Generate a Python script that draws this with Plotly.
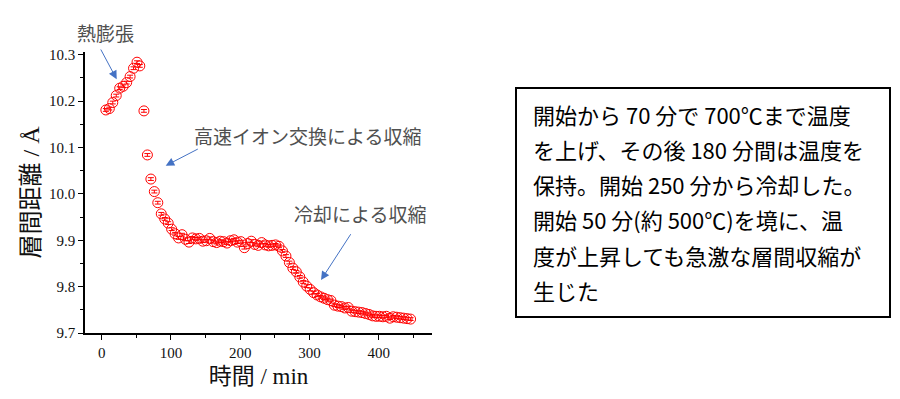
import plotly.graph_objects as go

# ---- data ----
time_min = [6, 11, 16, 21, 26, 31, 36, 41, 46, 51, 55, 61, 66, 71, 76, 81, 86, 91, 96,
            101, 106, 111, 116, 121, 126, 131, 136, 141, 146, 151, 156, 161, 166, 171,
            176, 181, 186, 191, 196, 201, 206, 211, 216, 221, 226, 231, 236, 241, 246,
            251, 256, 261, 266, 271, 276, 281, 286, 291, 296, 301, 306, 311, 316, 321,
            326, 331, 336, 341, 346, 351, 356, 361, 366, 371, 376, 381, 386, 391, 396,
            401, 406, 411, 416, 421, 426, 431, 436, 441, 446]
d_spacing = [10.181, 10.184, 10.197, 10.212, 10.228, 10.232, 10.240, 10.253, 10.271, 10.284,
             10.276, 10.179, 10.084, 10.032, 10.005, 9.981, 9.957, 9.946, 9.937,
             9.924, 9.914, 9.905, 9.912, 9.902, 9.896, 9.905, 9.903, 9.904, 9.898, 9.899,
             9.904, 9.897, 9.895, 9.898, 9.897, 9.894, 9.899, 9.901, 9.896, 9.897, 9.884,
             9.893, 9.898, 9.891, 9.889, 9.895, 9.890, 9.888, 9.889, 9.890, 9.887, 9.877,
             9.866, 9.852, 9.840, 9.832, 9.821, 9.810, 9.801, 9.794, 9.787, 9.782, 9.778,
             9.775, 9.772, 9.770, 9.760, 9.758, 9.757, 9.754, 9.755, 9.747, 9.746, 9.745,
             9.744, 9.742, 9.740, 9.737, 9.736, 9.736, 9.735, 9.736, 9.732, 9.735, 9.734,
             9.733, 9.732, 9.731, 9.730]
err_value = 0.003

x_ticks = [0, 100, 200, 300, 400]
y_ticks = [9.7, 9.8, 9.9, 10.0, 10.1, 10.2, 10.3]
y_tick_labels = ["9.7", "9.8", "9.9", "10.0", "10.1", "10.2", "10.3"]

x_title = "時間 / min"
y_title = "層間距離 / Å"
label_expansion = "熱膨張"
label_exchange = "高速イオン交換による収縮"
label_cooling = "冷却による収縮"
note_lines = [
    "開始から 70 分で 700℃まで温度",
    "を上げ、その後 180 分間は温度を",
    "保持。開始 250 分から冷却した。",
    "開始 50 分(約 500℃)を境に、温",
    "度が上昇しても急激な層間収縮が",
    "生じた",
]

# ---- layout geometry (pixels) ----
W, H = 900, 399
L, R, T, B = 85, 432, 52, 333


def px_to_paper(px, py):
    return (px - L) / (R - L), (B - py) / (B - T)


serif_cjk = "Liberation Serif, 'Noto Sans CJK JP'"
cjk = "'Noto Sans CJK JP', 'Noto Sans', sans-serif"

fig = go.Figure()
fig.add_trace(go.Scatter(
    x=time_min, y=d_spacing, mode="markers",
    marker=dict(symbol="circle-open", size=10, color="#FF0000", line=dict(width=1, color="#FF0000")),
    error_y=dict(type="constant", value=err_value, color="#FF0000", thickness=1, width=3),
    showlegend=False, cliponaxis=False,
))

arrow_color = "#4472C4"
annotations = []
# arrows: head and tail given in pixel positions of the picture
for hx, hy, tx, ty in [(116.7, 79.3, 100, 48), (165.7, 165.7, 199.3, 148.3), (321, 280, 351.7, 232.7)]:
    xp, yp = px_to_paper(hx, hy)
    annotations.append(dict(x=xp, y=yp, xref="paper", yref="paper", ax=tx - hx, ay=ty - hy,
                            axref="pixel", ayref="pixel",
                            text="", showarrow=True, arrowhead=2, arrowsize=1.7, arrowwidth=1,
                            arrowcolor=arrow_color, standoff=0, startstandoff=0))
# labels
for txt, pxc, pyc in [(label_expansion, 105.5, 32), (label_exchange, 307, 135), (label_cooling, 360, 213)]:
    xp, yp = px_to_paper(pxc, pyc)
    annotations.append(dict(x=xp, y=yp, xref="paper", yref="paper", text=txt, showarrow=False,
                            xanchor="center", yanchor="middle",
                            font=dict(family=cjk, size=19, color="#505050")))
# note box text
line_y = [114, 149, 184, 219, 255, 290]
for txt, py in zip(note_lines, line_y):
    xp, yp = px_to_paper(531, py)
    annotations.append(dict(x=xp, y=yp, xref="paper", yref="paper", text=txt, showarrow=False,
                            xanchor="left", yanchor="middle",
                            font=dict(family=cjk, size=22, color="#000000")))

x0, y0 = px_to_paper(516, 317)
x1, y1 = px_to_paper(890, 88)
shapes = [dict(type="rect", xref="paper", yref="paper", x0=x0, y0=y0, x1=x1, y1=y1,
               line=dict(color="#000000", width=2), fillcolor="rgba(0,0,0,0)")]

fig.update_layout(
    width=W, height=H,
    margin=dict(l=L, r=W - R, t=T, b=H - B),
    paper_bgcolor="white", plot_bgcolor="white",
    annotations=annotations, shapes=shapes,
    xaxis=dict(range=[-24.1, 476.9], tickvals=x_ticks, showgrid=False, zeroline=False, automargin=False,
               showline=True, linecolor="#000000", linewidth=1.5,
               ticks="outside", ticklen=5, tickwidth=1, tickcolor="#000000",
               minor=dict(dtick=50, ticks="outside", ticklen=3, tickcolor="#000000"),
               tickfont=dict(family="Liberation Serif", size=15, color="#111111"),
               title=dict(text=x_title, font=dict(family=serif_cjk, size=23, color="#111111"), standoff=8)),
    yaxis=dict(range=[9.7, 10.306], tickvals=y_ticks, ticktext=y_tick_labels, showgrid=False, zeroline=False,
               automargin=False,
               showline=True, linecolor="#000000", linewidth=1.5,
               ticks="outside", ticklen=5, tickwidth=1, tickcolor="#000000",
               minor=dict(dtick=0.05, ticks="outside", ticklen=3, tickcolor="#000000"),
               tickfont=dict(family="Liberation Serif", size=15, color="#111111"),
               title=dict(text=y_title, font=dict(family=serif_cjk, size=24, color="#111111"), standoff=3)),
)

fig.write_html("out.html", config={"displayModeBar": False},
               post_script="document.body.style.margin='0';document.body.style.overflow='hidden';")
